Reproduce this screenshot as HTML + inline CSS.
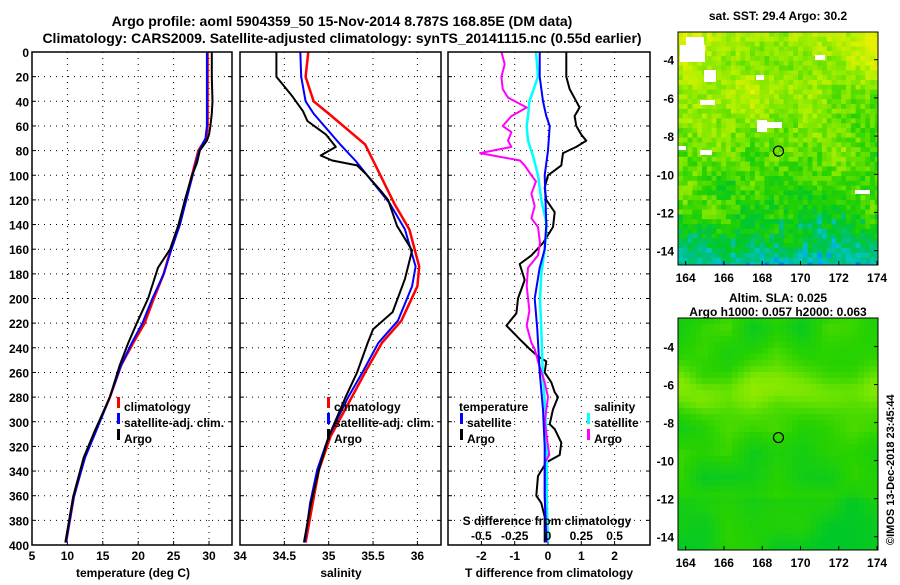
<!DOCTYPE html>
<html><head><meta charset="utf-8"><style>
body{margin:0;background:#fff;width:900px;height:580px;overflow:hidden}
svg text{font-family:"Liberation Sans",Arial,sans-serif;font-weight:bold;fill:#000}
</style></head><body>
<svg id="s" width="900" height="580" xmlns="http://www.w3.org/2000/svg">
<defs>
<clipPath id="c1"><rect x="678" y="32" width="200" height="233"/></clipPath>
<clipPath id="c2"><rect x="678" y="318" width="200" height="232"/></clipPath>
</defs>
<text x="342" y="26" font-size="14" text-anchor="middle">Argo profile: aoml 5904359_50 15-Nov-2014 8.787S 168.85E (DM data)</text>
<text x="342" y="43" font-size="14" text-anchor="middle">Climatology: CARS2009. Satellite-adjusted climatology: synTS_20141115.nc (0.55d earlier)</text>
<text x="778" y="20" font-size="12" text-anchor="middle">sat. SST: 29.4 Argo: 30.2</text>
<text x="778" y="302" font-size="12" text-anchor="middle">Altim. SLA: 0.025</text>
<text x="778" y="316" font-size="12" text-anchor="middle">Argo h1000: 0.057 h2000: 0.063</text>
<text transform="translate(894,545) rotate(-90)" font-size="11" font-weight="normal">©IMOS 13-Dec-2018 23:45:44</text>
</svg>
<script>
// ---- data ----
const tDepthArgo=[0,20,40,50,60,67,72,80,90,100,120,140,160,175,200,220,236,254,280,307,329,361,398];
const tempArgo=[30.4,30.4,30.5,30.4,30.2,30.0,29.7,28.7,28.3,27.6,26.6,25.7,24.5,22.8,21.4,19.8,18.6,17.4,16.0,13.9,12.3,10.8,9.7];
const tDepthClim=[0,60,70,80,100,140,160,180,200,220,236,254,280,307,329,361,398];
const tempClim=[29.8,29.8,29.6,28.5,27.6,25.8,24.6,23.6,22.2,20.9,19.3,17.6,16.0,14.0,12.4,10.9,9.8];
const tempSat=[29.7,29.7,29.5,28.6,27.7,25.9,24.7,23.6,22.0,20.6,19.1,17.6,16.0,14.1,12.5,10.9,9.8];
const sDepthArgo=[0,20,35,48,56,67,77,84,88,92,99,112,120,141,161,184,211,225,236,260,280,312,339,366,398];
const salArgo=[34.41,34.41,34.58,34.71,34.76,34.97,35.08,34.91,35.04,35.32,35.42,35.58,35.67,35.77,35.94,35.86,35.72,35.5,35.44,35.32,35.19,35.0,34.89,34.8,34.72];
const sDepthClim=[0,20,40,50,75,88,123,144,174,190,218,236,260,280,312,339,366,398];
const salClim=[34.77,34.74,34.83,35.0,35.41,35.5,35.74,35.91,36.02,36.0,35.82,35.6,35.41,35.26,35.02,34.89,34.82,34.74];
const salSat=[34.68,34.69,34.74,34.83,35.13,35.3,35.69,35.86,35.98,35.94,35.78,35.56,35.38,35.22,35.0,34.87,34.79,34.73];
const dDepthArgoT=[0,20,30,40,45,52,60,67,72,77,82,92,100,110,120,130,142,155,165,172,185,200,212,222,233,241,247,251,260,268,276,280,290,302,306,317,327,333,344,360,366,377,398];
const tDiffArgo=[0.55,0.55,0.65,0.85,0.95,0.8,0.85,1.0,1.15,0.85,0.45,0.4,0.0,-0.1,-0.05,0.2,0.15,-0.15,-0.5,-0.85,-0.7,-0.9,-0.95,-1.25,-0.85,-0.55,-0.3,-0.05,-0.1,0.1,0.2,0.3,0.15,0.05,0.2,0.4,0.35,-0.05,-0.3,-0.35,-0.2,-0.1,-0.1];
const dDepthSatT=[0,20,40,52,60,80,100,140,160,175,200,225,260,290,320,360,398];
const tDiffSat=[-0.25,-0.25,-0.15,-0.05,0.05,0.0,-0.1,-0.05,-0.1,-0.25,-0.4,-0.32,-0.25,-0.15,-0.1,-0.1,-0.05];
const dDepthArgoS=[0,10,20,30,37,45,52,60,65,72,77,82,88,92,100,105,115,125,135,142,155,165,175,190,210,222,236,241,251,268,280,300,327,333,360,398];
const sDiffArgo=[-0.35,-0.325,-0.35,-0.34,-0.3,-0.16,-0.275,-0.34,-0.275,-0.3,-0.275,-0.51,-0.21,-0.175,-0.125,-0.09,-0.125,-0.1,-0.125,-0.075,-0.06,-0.075,-0.15,-0.16,-0.14,-0.16,-0.125,-0.1,-0.075,-0.025,0.0,-0.025,0.01,-0.025,-0.025,-0.01];
const dDepthSatS=[0,20,40,52,60,72,85,100,120,140,160,180,200,225,260,290,320,360,398];
const sDiffSat=[-0.09,-0.075,-0.14,-0.15,-0.16,-0.15,-0.11,-0.075,-0.05,-0.01,-0.025,-0.05,-0.06,-0.05,-0.04,-0.02,-0.01,-0.01,0.0];
const depthTicks=[0,20,40,60,80,100,120,140,160,180,200,220,240,260,280,300,320,340,360,380,400];
const tempTicks=[5,10,15,20,25,30];
const salTicks=[34,34.5,35,35.5,36];
const salTickLabels=["34","34.5","35","35.5","36"];
const tdTicks=[-2,-1,0,1,2];
const sdTicks=[-0.5,-0.25,0,0.25,0.5];
const lonTicks=[164,166,168,170,172,174];
const latTicks=[-4,-6,-8,-10,-12,-14];
const argoLon=168.85, argoLat=-8.787;

const S=document.getElementById('s');const NS='http://www.w3.org/2000/svg';
function mk(t,a,p){const e=document.createElementNS(NS,t);for(const k in a)e.setAttribute(k,a[k]);(p||S).appendChild(e);return e;}
const Y0=52,Y1=545;const yD=d=>Y0+d/400*(Y1-Y0);
function panel(name){const g=mk('g',{});
  
  
  return g;}
function frame(g,x0,x1){mk('rect',{x:x0,y:Y0,width:x1-x0,height:Y1-Y0,fill:'none',stroke:'#000','stroke-width':1.5},g);}
function txt(g,x,y,s,size,anchor,name){const t=mk('text',{x:x,y:y,'font-size':size,'text-anchor':anchor||'start'},g);t.textContent=s;
  
  
  return t;}
function hgrid(g,x0,x1,showLbl){
  depthTicks.forEach(d=>{const y=yD(d);
    if(d>0&&d<400)mk('line',{x1:x0,x2:x1,y1:y,y2:y,stroke:'#000','stroke-dasharray':'1 5'},g);
    mk('line',{x1:x0,x2:x0+4,y1:y,y2:y,stroke:'#000'},g);mk('line',{x1:x1-4,x2:x1,y1:y,y2:y,stroke:'#000'},g);
    if(showLbl)txt(g,x0-3,y+5,String(d),12,'end','depth-tick-label');
  });}
function line(g,ds,xs,xf,color,w,name){const pts=ds.map((d,i)=>xf(xs[i]).toFixed(1)+','+yD(d).toFixed(1)).join(' ');
  const p=mk('polyline',{points:pts,fill:'none',stroke:color,'stroke-width':w,'stroke-linejoin':'round'},g);
  
  }
function legBar(g,x,y,c){mk('rect',{x:x,y:y-10,width:3,height:11,fill:c},g);}
function vtick(g,x,x0,x1){if(x>x0+2&&x<x1-2)mk('line',{x1:x,x2:x,y1:Y0,y2:Y1,stroke:'#000','stroke-dasharray':'1 5'},g);
  mk('line',{x1:x,x2:x,y1:Y1,y2:Y1-4,stroke:'#000'},g);}

// Panel 1: temperature
{const x0=32,x1=232,xT=v=>32+(v-5)*7.08;const g=panel('temperature-panel');
 hgrid(g,x0,x1,true);
 tempTicks.forEach(v=>{const x=xT(v);vtick(g,x,x0,x1);txt(g,x,560,String(v),12,'middle','temperature-tick-label');});
 line(g,tDepthClim,tempClim,xT,'#f00',2.5,'temperature-climatology-line');
 line(g,tDepthClim,tempSat,xT,'#00f',2,'temperature-satellite-line');
 line(g,tDepthArgo,tempArgo,xT,'#000',2,'temperature-argo-line');
 frame(g,x0,x1);
 legBar(g,117,407,'#f00');txt(g,124,411,'climatology',12,'start','legend-climatology');
 legBar(g,117,423,'#00f');txt(g,124,427,'satellite-adj. clim.',12,'start','legend-satellite');
 legBar(g,117,439,'#000');txt(g,124,443,'Argo',12,'start','legend-argo');
 txt(g,133,577,'temperature (deg C)',12,'middle','temperature-axis-title');}

// Panel 2: salinity
{const x0=240,x1=441,xS=v=>240+(v-34)*88.7;const g=panel('salinity-panel');
 hgrid(g,x0,x1,false);
 salTicks.forEach((v,i)=>{const x=xS(v);vtick(g,x,x0,x1);txt(g,x,560,salTickLabels[i],12,'middle','salinity-tick-label');});
 line(g,sDepthClim,salClim,xS,'#f00',2.5,'salinity-climatology-line');
 line(g,sDepthClim,salSat,xS,'#00f',2,'salinity-satellite-line');
 line(g,sDepthArgo,salArgo,xS,'#000',2,'salinity-argo-line');
 frame(g,x0,x1);
 legBar(g,327,407,'#f00');txt(g,334,411,'climatology',12,'start','legend-climatology');
 legBar(g,327,423,'#00f');txt(g,334,427,'satellite-adj. clim.',12,'start','legend-satellite');
 legBar(g,327,439,'#000');txt(g,334,443,'Argo',12,'start','legend-argo');
 txt(g,341,577,'salinity',12,'middle','salinity-axis-title');}

// Panel 3: differences
{const x0=448,x1=650,xT=v=>548+v*33.3,xSd=v=>548+v*133.2;const g=panel('difference-panel');
 hgrid(g,x0,x1,false);
 tdTicks.forEach(v=>{const x=xT(v);vtick(g,x,x0,x1);txt(g,x,560,String(v),12,'middle','t-diff-tick-label');});
 line(g,dDepthArgoT,tDiffArgo,xT,'#000',2,'t-diff-argo-line');
 line(g,dDepthSatS,sDiffSat,xSd,'#0ff',2.5,'s-diff-satellite-line');
 line(g,dDepthArgoS,sDiffArgo,xSd,'#f0f',2,'s-diff-argo-line');
 line(g,dDepthSatT,tDiffSat,xT,'#00f',2,'t-diff-satellite-line');
 frame(g,x0,x1);
 txt(g,459,411,'temperature',12,'start','legend-temperature-header');
 legBar(g,460,423,'#00f');txt(g,467,427,'satellite',12,'start','legend-t-satellite');
 legBar(g,460,439,'#000');txt(g,467,443,'Argo',12,'start','legend-t-argo');
 txt(g,594,411,'salinity',12,'start','legend-salinity-header');
 legBar(g,587,423,'#0ff');txt(g,594,427,'satellite',12,'start','legend-s-satellite');
 legBar(g,587,439,'#f0f');txt(g,594,443,'Argo',12,'start','legend-s-argo');
 txt(g,547,525,'S difference from climatology',12,'middle','s-diff-axis-title');
 sdTicks.forEach(v=>txt(g,xSd(v),540,String(v),12,'middle','s-diff-tick-label'));
 txt(g,549,577,'T difference from climatology',12,'middle','t-diff-axis-title');}

// Maps (texture only)
let seed=11;const rnd=()=>{seed=(seed*16807)%2147483647;return seed/2147483647;};
const coarse=[];for(let i=0;i<400;i++)coarse.push(rnd());
function vnoise(u,v){const i=Math.floor(u),j=Math.floor(v),fu=u-i,fv=v-j;const c=(a,b)=>coarse[((a%20)+20)%20*20+((b%20)+20)%20];
  const a=c(i,j)*(1-fu)+c(i+1,j)*fu,b=c(i,j+1)*(1-fu)+c(i+1,j+1)*fu;return a*(1-fv)+b*fv;}
const pal=[[0,80,240],[0,160,240],[0,200,200],[0,192,128],[0,200,40],[40,210,0],[120,230,0],[180,240,0],[230,240,0]];
function col(t){t=Math.max(0,Math.min(0.999,t))*(pal.length-1);const i=Math.floor(t),f=t-i;const a=pal[i],b=pal[i+1];
  return `rgb(${Math.round(a[0]+(b[0]-a[0])*f)},${Math.round(a[1]+(b[1]-a[1])*f)},${Math.round(a[2]+(b[2]-a[2])*f)})`;}
function map(x0,y0,x1,y1,latTop,latBot,kind,name,clip){
  const g=mk('g',{});
  
  
  const cells=mk('g',{'clip-path':'url(#'+clip+')'},g);
  const lonX=v=>x0+(v-163.6)/(174.05-163.6)*(x1-x0);const latY=v=>y0+(latTop-v)/(latTop-latBot)*(y1-y0);
  const cs=kind==='sst'?4.8:6;
  for(let y=y0;y<y1;y+=cs)for(let x=x0;x<x1;x+=cs){const f=(y-y0)/(y1-y0);let t;
    if(kind==='sst'){t=0.92-0.45*f+(vnoise(x/30,y/30)-0.5)*0.25+(rnd()-0.5)*0.18;
      if(f>0.78)t-=0.2*(f-0.78)/0.22+(rnd()<0.15?0.15:0);}
    else{const band=Math.exp(-Math.pow((f-0.3)/0.1,2));t=0.6+band*0.15+(vnoise(x/25,y/25)-0.5)*0.15-(f>0.75?0.04:0);}
    mk('rect',{x:x.toFixed(1),y:y.toFixed(1),width:cs+0.4,height:cs+0.4,fill:col(t)},cells);}
  if(kind==='sst'){[[686,37,18,15],[680,45,25,17],[704,70,12,12],[700,150,12,5],[757,120,10,12],[766,122,16,6],[700,100,15,5],[855,190,15,4],[678,146,8,4],[756,75,8,5],[815,55,10,5]].forEach(r=>mk('rect',{x:r[0],y:r[1],width:r[2],height:r[3],fill:'#fff'},cells));}
  mk('circle',{cx:lonX(argoLon),cy:latY(argoLat),r:5,fill:'none',stroke:'#000','stroke-width':1.2},g);
  mk('rect',{x:x0,y:y0,width:x1-x0,height:y1-y0,fill:'none',stroke:'#000'},g);
  lonTicks.forEach(v=>{const x=lonX(v);mk('line',{x1:x,x2:x,y1:y1,y2:y1-4,stroke:'#000'},g);txt(g,x,y1+17,String(v),12,'middle','lon-tick-label');});
  latTicks.forEach(v=>{const y=latY(v);mk('line',{x1:x1,x2:x1-4,y1:y,y2:y,stroke:'#000'},g);txt(g,x0-4,y+5,String(v),12,'end','lat-tick-label');});
}
map(678,32,878,265,-2.55,-14.75,'sst','sst-map','c1');
map(678,318,878,550,-2.5,-14.7,'sla','sla-map','c2');
</script>
</body></html>
